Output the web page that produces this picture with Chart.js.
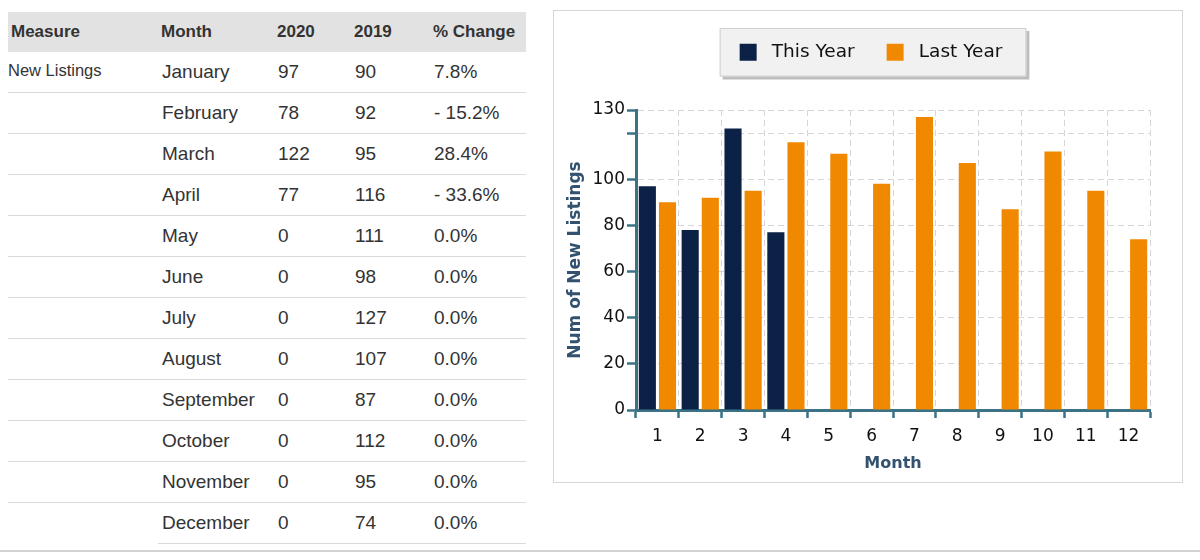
<!DOCTYPE html>
<html>
<head>
<meta charset="utf-8">
<script src="https://cdn.jsdelivr.net/npm/chart.js@4"></script>
<style>
  html,body{margin:0;padding:0;background:#fff;}
  body{width:1200px;height:560px;position:relative;overflow:hidden;font-family:"Liberation Sans",Arial,sans-serif;color:#333;}
  #tbl{position:absolute;left:8px;top:12px;border-collapse:collapse;table-layout:fixed;}
  #tbl th{background:#e2e2e2;height:40px;padding:0 0 0 3px;text-align:left;font-size:17px;font-weight:bold;color:#333;}
  #tbl td{height:40px;padding:0 0 0 4px;font-size:19px;border-bottom:1px solid #d9dae0;vertical-align:middle;}
  #tbl td.m{font-size:16.5px;vertical-align:top;padding:9px 0 0 0;height:31px;}
  #tbl tr.last td.m{border-bottom:none;}
  #box{position:absolute;left:553px;top:10px;width:628px;height:471px;border:1px solid #d6d6d6;background:#fff;}
  #bottomLine{position:absolute;left:0;top:550px;width:1200px;height:2px;background:#d2d2d2;}
</style>
</head>
<body>
<table id="tbl">
  <colgroup><col style="width:150px"><col style="width:116px"><col style="width:77px"><col style="width:79px"><col style="width:96px"></colgroup>
  <thead></thead>
  <tbody></tbody>
</table>
<div id="box"><canvas id="chart" width="628" height="471"></canvas></div>
<div id="bottomLine"></div>
<script>
// --------- данные ---------
const headers=['Measure','Month','2020','2019','% Change'];
const measure='New Listings';
const months=['January','February','March','April','May','June','July','August','September','October','November','December'];
const listings2020=[97,78,122,77,0,0,0,0,0,0,0,0];
const listings2019=[90,92,95,116,111,98,127,107,87,112,95,74];
const pctChange=['7.8%','- 15.2%','28.4%','- 33.6%','0.0%','0.0%','0.0%','0.0%','0.0%','0.0%','0.0%','0.0%'];
const monthNums=['1','2','3','4','5','6','7','8','9','10','11','12'];
const yTicks=[0,20,40,60,80,100,120,130];
const yHidden=[120];             // деление без подписи

const NAVY='#0b2146', ORANGE='#f08900', AXIS='#3b7285', TITLE='#33526f';

// --------- таблица ---------
const thead=document.querySelector('#tbl thead');
let tr=document.createElement('tr');
headers.forEach(h=>{const th=document.createElement('th'); th.textContent=h; tr.appendChild(th);});
thead.appendChild(tr);
const tbody=document.querySelector('#tbl tbody');
months.forEach((m,i)=>{
  tr=document.createElement('tr');
  if(i===months.length-1)tr.className='last';
  [i===0?measure:'',m,listings2020[i],listings2019[i],pctChange[i]].forEach((c,j)=>{
    const td=document.createElement('td');
    if(j===0)td.className='m';
    td.textContent=c;
    tr.appendChild(td);
  });
  tbody.appendChild(tr);
});

// --------- рамка легенды ---------
const legendFrame={
  id:'legendFrame',
  afterInit(chart){
    const lg=chart.legend, fit=lg.fit;
    lg.fit=function(){fit.call(this); this.height=99;};
  },
  afterLayout(chart){           // сдвиг легенды вправо
    chart.legend.left+=19; chart.legend.right+=19;
  },
  beforeDraw(chart){
    const hb=chart.legend.legendHitBoxes; if(!hb||!hb.length)return;
    const l=Math.min(...hb.map(h=>h.left))-20, r=Math.max(...hb.map(h=>h.left+h.width))+24;
    const t=hb[0].top-15, b=hb[0].top+hb[0].height+15;
    const ctx=chart.ctx;
    ctx.save();
    ctx.fillStyle='#bdbdbd'; ctx.fillRect(l+3,t+3,r-l,b-t);
    ctx.fillStyle='#f1f1f1'; ctx.fillRect(l,t,r-l,b-t);
    ctx.strokeStyle='#d0d0d0'; ctx.lineWidth=1; ctx.strokeRect(l+0.5,t+0.5,r-l-1,b-t-1);
    ctx.restore();
  }
};

// --------- график ---------
const tickFont={family:'DejaVu Sans',size:17};
new Chart(document.getElementById('chart').getContext('2d'),{
  type:'bar',
  data:{
    labels:monthNums,
    datasets:[
      {label:'This Year',data:listings2020,backgroundColor:NAVY,categoryPercentage:0.94,barPercentage:0.85},
      {label:'Last Year',data:listings2019,backgroundColor:ORANGE,categoryPercentage:0.94,barPercentage:0.85}
    ]
  },
  options:{
    responsive:false,animation:false,
    layout:{padding:{left:0,right:32,top:0,bottom:0}},
    plugins:{
      legend:{position:'top',labels:{
        boxWidth:17,boxHeight:17,padding:32,color:'#111',font:{family:'DejaVu Sans',size:18.5},
        generateLabels(chart){
          return Chart.defaults.plugins.legend.labels.generateLabels(chart).map(l=>{l.text=' '+l.text; return l;});
        }
      }},
      tooltip:{enabled:false}
    },
    scales:{
      x:{
        grid:{color:'#d6d6d6',lineWidth:1,offset:true,tickLength:8,tickColor:AXIS,tickWidth:2.5},
        border:{color:AXIS,width:3,dash:[6,4]},
        ticks:{color:'#111',font:tickFont,padding:8,maxRotation:0},
        title:{display:true,text:'Month',color:TITLE,font:{family:'DejaVu Sans',size:16,weight:'bold'},padding:{top:0,bottom:9}},
        afterFit(s){s.height=72;}
      },
      y:{
        min:0,max:130,
        afterBuildTicks(s){s.ticks=yTicks.map(v=>({value:v}));},
        grid:{color:'#d6d6d6',lineWidth:1,tickLength:9,tickColor:AXIS,tickWidth:2.5},
        border:{color:AXIS,width:3,dash:[6,4]},
        ticks:{color:'#111',font:tickFont,padding:2,callback:v=>yHidden.includes(v)?'':v},
        title:{display:true,text:'Num of New Listings',color:TITLE,font:{family:'DejaVu Sans',size:17,weight:'bold'},padding:{top:11,bottom:0}},
        afterFit(s){s.width=82;}
      }
    }
  },
  plugins:[legendFrame]
});
</script>
</body>
</html>
